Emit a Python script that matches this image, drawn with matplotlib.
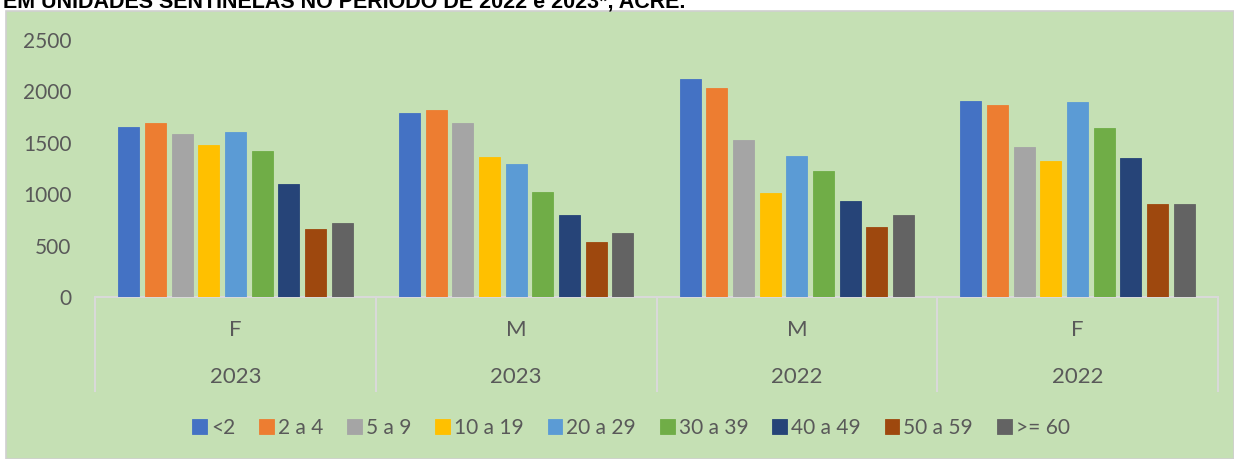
import matplotlib
matplotlib.use('Agg')
import matplotlib.pyplot as plt
from matplotlib.patches import Rectangle
import numpy as np

# dados
grupos_sexo = ['F', 'M', 'M', 'F']
grupos_ano = ['2023', '2023', '2022', '2022']
faixas = ['<2', '2 a 4', '5 a 9', '10 a 19', '20 a 29', '30 a 39', '40 a 49', '50 a 59', '>= 60']
valores = [
    [1651, 1794, 2118, 1904],   # <2
    [1693, 1819, 2030, 1865],   # 2 a 4
    [1586, 1696, 1527, 1456],   # 5 a 9
    [1476, 1359, 1012, 1323],   # 10 a 19
    [1602, 1298, 1368, 1894],   # 20 a 29
    [1417, 1025, 1226, 1644],   # 30 a 39
    [1096, 801, 937, 1349],     # 40 a 49
    [665, 532, 681, 908],       # 50 a 59
    [720, 626, 801, 902],       # >= 60
]
cores = ['#4472C4', '#ED7D31', '#A5A5A5', '#FFC000', '#5B9BD5',
         '#70AD47', '#264478', '#9E480E', '#636363']
titulo = 'EM UNIDADES SENTINELAS NO PERÍODO DE 2022 e 2023*, ACRE.'

W, H = 1234, 459
fundo = '#C5E0B4'
cinza_txt = '#595959'
linha = '#D9D9D9'
fs = 15
plt.rcParams['font.family'] = ['Lato', 'DejaVu Sans']

fig = plt.figure(figsize=(W / 100, H / 100), dpi=100)
fig.patch.set_facecolor('white')

# caixa verde do gráfico (atrás de tudo)
fig.patches.append(Rectangle((6 / W, 0), 1 - 6 / W, 1 - 11 / H, transform=fig.transFigure,
                             facecolor=fundo, edgecolor='#D0D0D0', linewidth=1.2, zorder=-10))

# título cortado no topo
t = fig.text(3 / W, 1 - 7.5 / H, titulo, fontsize=12, fontweight='bold',
             family='Liberation Sans', color='black', ha='left', va='baseline')
fig.canvas.draw()
larg = t.get_window_extent().width
t.set_fontsize(12 * 684 / larg)

ax = fig.add_axes([95 / W, 1 - 297 / H, (1218 - 95) / W, 257 / H])
ax.set_facecolor('none')
x = np.arange(len(grupos_sexo))
passo = 0.095
larg_barra = 0.075
for j, (faixa, vals, cor) in enumerate(zip(faixas, valores, cores)):
    ax.bar(x + (j - 4) * passo, vals, width=larg_barra, color=cor, label=faixa,
           edgecolor=cor, linewidth=0.6, zorder=3)

ax.set_xlim(-0.5, len(grupos_sexo) - 0.5)
ax.set_ylim(0, 2500)
ax.set_yticks(range(0, 2501, 500))
ax.tick_params(axis='y', length=0, pad=17, labelsize=fs, labelcolor=cinza_txt)
ax.set_xticks([])
for s in ['top', 'right', 'left']:
    ax.spines[s].set_visible(False)
ax.spines['bottom'].set_color(linha)
ax.spines['bottom'].set_linewidth(1.5)

# eixo de categorias em dois níveis
trans = ax.get_xaxis_transform()
for b in np.arange(-0.5, len(grupos_sexo), 1.0):
    ax.plot([b, b], [0, -0.366], transform=trans, color=linha, lw=1.5, clip_on=False)
for i, (sx, ano) in enumerate(zip(grupos_sexo, grupos_ano)):
    ax.text(i, -0.128, sx, transform=trans, ha='center', va='center', fontsize=16, color=cinza_txt)
    ax.text(i, -0.311, ano, transform=trans, ha='center', va='center', fontsize=16, color=cinza_txt)

leg = fig.legend(loc='center', bbox_to_anchor=(631 / W, 1 - 428 / H), ncol=9, frameon=False,
                 handlelength=0.7, handleheight=0.7, handletextpad=0.2, columnspacing=1.15,
                 fontsize=fs, labelcolor=cinza_txt, borderaxespad=0)

fig.savefig('out.png', dpi=100, facecolor=fig.get_facecolor())
